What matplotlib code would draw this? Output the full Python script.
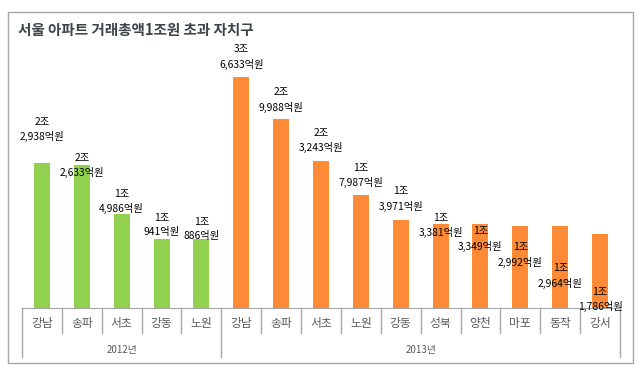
import matplotlib
matplotlib.use('Agg')
import matplotlib.pyplot as plt
from matplotlib.patches import Rectangle
import numpy as np

plt.rcParams['font.family'] = ['Noto Sans CJK KR', 'DejaVu Sans']

#====================================
# data (억원)
title = '서울 아파트 거래총액1조원 초과 자치구'
years = ['2012년', '2013년']
gu_2012 = ['강남', '송파', '서초', '강동', '노원']
val_2012 = [22938, 22633, 14986, 10941, 10886]
gu_2013 = ['강남', '송파', '서초', '노원', '강동', '성북', '양천', '마포', '동작', '강서']
val_2013 = [36633, 29988, 23243, 17987, 13971, 13381, 13349, 12992, 12964, 11786]

# label offset from bar top, pixels (manually placed in the original)
label_dy = [34, 0, 12, 14, 10, 20, 19, 21, 19, 21, -2, -15, -29, -50, -66]

GREEN = '#92D050'
ORANGE = '#FD8A36'
GRID = '#A6A6A6'

W, H = 640, 372
fig = plt.figure(figsize=(W / 100, H / 100), dpi=100)

# outer frame
fig.patches.append(Rectangle((8 / W, (H - 363) / H), 625 / W, 351 / H,
                             transform=fig.transFigure, fill=False,
                             edgecolor=GRID, lw=1))
fig.text(18 / W, (H - 30) / H, title, fontsize=10.5, fontweight='bold',
         color='#3F4448', va='center', ha='left')

ax_l, ax_r = 22 / W, 620 / W
ax_b, ax_t = (H - 308) / H, (H - 40) / H
ax = fig.add_axes([ax_l, ax_b, ax_r - ax_l, ax_t - ax_b])
ax_h_px = (ax_t - ax_b) * H

names = gu_2012 + gu_2013
vals = val_2012 + val_2013
colors = [GREEN] * len(val_2012) + [ORANGE] * len(val_2013)
x = np.arange(len(vals))

ax.bar(x, vals, width=0.4, color=colors, zorder=2)
ax.set_xlim(-0.5, len(vals) - 0.5)
ax.set_ylim(0, 268 * 158.6)

for s in ['top', 'right', 'left']:
    ax.spines[s].set_visible(False)
ax.spines['bottom'].set_color(GRID)
ax.set_xticks([])
ax.set_yticks([])

# data labels
for i, v in enumerate(vals):
    txt = '{}조\n{:,}억원'.format(v // 10000, v % 10000)
    ax.annotate(txt, (x[i], v), xytext=(0, label_dy[i]), textcoords='offset pixels',
                ha='center', va='center', fontsize=7.4, linespacing=1.5,
                color='black', zorder=3)

# category axis cells
tr = ax.get_xaxis_transform()
short = -25 / ax_h_px
long_ = -49 / ax_h_px
n1 = len(val_2012)
for b in np.arange(len(vals) + 1) - 0.5:
    end = long_ if b in (-0.5, n1 - 0.5, len(vals) - 0.5) else short
    ax.plot([b, b], [0, end], transform=tr, color=GRID, lw=1, clip_on=False)

for i, name in enumerate(names):
    ax.text(x[i], -15 / ax_h_px, name, transform=tr, ha='center', va='center',
            fontsize=8.5, color='#595959')

ax.text((n1 - 1) / 2, -42 / ax_h_px, years[0], transform=tr, ha='center',
        va='center', fontsize=7, color='#595959')
ax.text((n1 + len(vals) - 1) / 2, -42 / ax_h_px, years[1], transform=tr,
        ha='center', va='center', fontsize=7, color='#595959')

fig.savefig('out.png', dpi=100)
